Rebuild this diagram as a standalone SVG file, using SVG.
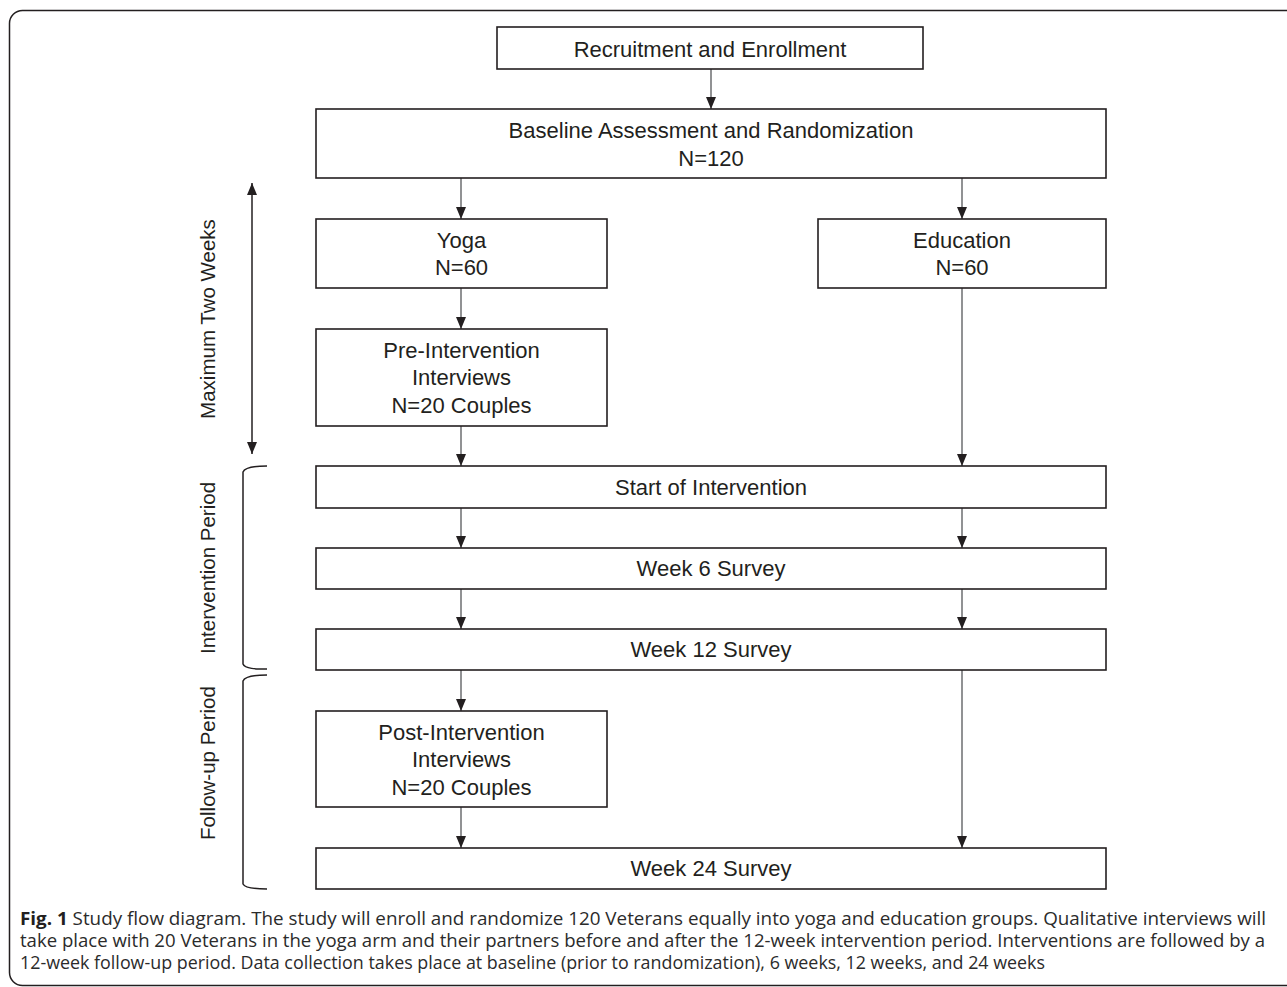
<svg xmlns="http://www.w3.org/2000/svg" width="1287" height="987" viewBox="0 0 1287 987">
<style>
.box{fill:#fff;stroke:#231f20;stroke-width:1.6}
.t{font-family:"Liberation Sans",Arial,sans-serif;font-size:22px;fill:#231f20;text-anchor:middle}
.side{font-family:"Liberation Sans",Arial,sans-serif;font-size:20.5px;fill:#231f20;text-anchor:middle}
.conn line{stroke:#6d6e70;stroke-width:1.5;fill:none}
.conn .dbl{stroke:#231f20}
.brk{fill:none;stroke:#231f20;stroke-width:1.5}
.cap{font-family:"Open Sans","Liberation Sans",sans-serif;font-size:17.5px;fill:#2b2b2b}
</style>
<defs>
<marker id="ahd" viewBox="0 0 12 10" refX="12" refY="5" markerWidth="12" markerHeight="10" markerUnits="userSpaceOnUse" orient="auto-start-reverse">
<path d="M0,0 L12,5 L0,10 Z" fill="#231f20"/>
</marker>
</defs>
<rect x="9.5" y="10.5" width="1300" height="975" rx="13" fill="#fff" stroke="#231f20" stroke-width="1.5"/>
<g id="connectors" class="conn">
<line x1="711" y1="69" x2="711" y2="109" marker-end="url(#ahd)"/>
<line x1="461" y1="178" x2="461" y2="219" marker-end="url(#ahd)"/>
<line x1="962" y1="178" x2="962" y2="219" marker-end="url(#ahd)"/>
<line x1="461" y1="288" x2="461" y2="329" marker-end="url(#ahd)"/>
<line x1="461" y1="426" x2="461" y2="466" marker-end="url(#ahd)"/>
<line x1="962" y1="288" x2="962" y2="466" marker-end="url(#ahd)"/>
<line x1="461" y1="508" x2="461" y2="548" marker-end="url(#ahd)"/>
<line x1="962" y1="508" x2="962" y2="548" marker-end="url(#ahd)"/>
<line x1="461" y1="589" x2="461" y2="629" marker-end="url(#ahd)"/>
<line x1="962" y1="589" x2="962" y2="629" marker-end="url(#ahd)"/>
<line x1="461" y1="670" x2="461" y2="711" marker-end="url(#ahd)"/>
<line x1="962" y1="670" x2="962" y2="848" marker-end="url(#ahd)"/>
<line x1="461" y1="807" x2="461" y2="848" marker-end="url(#ahd)"/>
<line class="dbl" x1="252" y1="183" x2="252" y2="454" marker-start="url(#ahd)" marker-end="url(#ahd)"/>
</g>
<g id="recruitment"><rect class="box" x="497" y="27" width="426" height="42"/><text class="t" x="710" y="57">Recruitment and Enrollment</text></g>
<g id="baseline"><rect class="box" x="316" y="109" width="790" height="69"/><text class="t" x="711" y="138">Baseline Assessment and Randomization</text><text class="t" x="711" y="166">N=120</text></g>
<g id="yoga"><rect class="box" x="316" y="219" width="291" height="69"/><text class="t" x="461.5" y="248">Yoga</text><text class="t" x="461.5" y="275">N=60</text></g>
<g id="education"><rect class="box" x="818" y="219" width="288" height="69"/><text class="t" x="962" y="248">Education</text><text class="t" x="962" y="275">N=60</text></g>
<g id="pre-interviews"><rect class="box" x="316" y="329" width="291" height="97"/><text class="t" x="461.5" y="358">Pre-Intervention</text><text class="t" x="461.5" y="385">Interviews</text><text class="t" x="461.5" y="413">N=20 Couples</text></g>
<g id="start"><rect class="box" x="316" y="466" width="790" height="42"/><text class="t" x="711" y="495">Start of Intervention</text></g>
<g id="week6"><rect class="box" x="316" y="548" width="790" height="41"/><text class="t" x="711" y="576">Week 6 Survey</text></g>
<g id="week12"><rect class="box" x="316" y="629" width="790" height="41"/><text class="t" x="711" y="657">Week 12 Survey</text></g>
<g id="post-interviews"><rect class="box" x="316" y="711" width="291" height="96"/><text class="t" x="461.5" y="740">Post-Intervention</text><text class="t" x="461.5" y="767">Interviews</text><text class="t" x="461.5" y="795">N=20 Couples</text></g>
<g id="week24"><rect class="box" x="316" y="848" width="790" height="41"/><text class="t" x="711" y="876">Week 24 Survey</text></g>
<g id="label-max"><text class="side" transform="translate(215,319) rotate(-90)">Maximum Two Weeks</text></g>
<g id="label-intervention"><path class="brk" d="M267,466 C256,466 245,467 243,472 L243,664 C245,669 256,669 267,669"/><text class="side" transform="translate(215,568) rotate(-90)">Intervention Period</text></g>
<g id="label-followup"><path class="brk" d="M267,675 C256,675 245,676 243,681 L243,884 C245,888 256,889 267,889"/><text class="side" transform="translate(215,763) rotate(-90)">Follow-up Period</text></g>
<g id="caption">
<text class="cap" x="20" y="925" textLength="1246" lengthAdjust="spacingAndGlyphs"><tspan font-weight="bold" fill="#231f20">Fig. 1</tspan> Study flow diagram. The study will enroll and randomize 120 Veterans equally into yoga and education groups. Qualitative interviews will</text>
<text class="cap" x="20" y="947" textLength="1245" lengthAdjust="spacingAndGlyphs">take place with 20 Veterans in the yoga arm and their partners before and after the 12-week intervention period. Interventions are followed by a</text>
<text class="cap" x="20" y="969" textLength="1025" lengthAdjust="spacingAndGlyphs">12-week follow-up period. Data collection takes place at baseline (prior to randomization), 6 weeks, 12 weeks, and 24 weeks</text>
</g>
</svg>
